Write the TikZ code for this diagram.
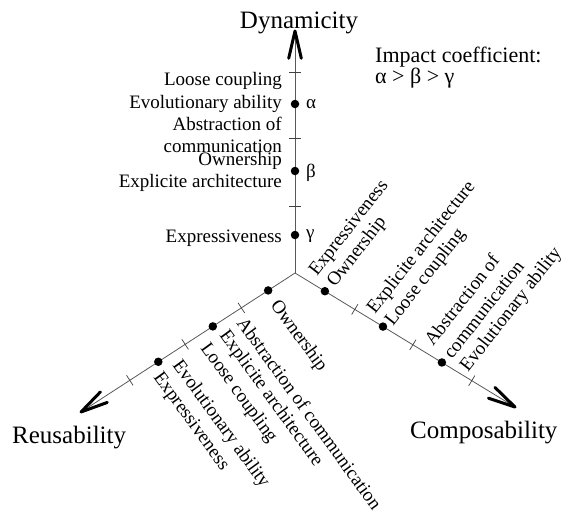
\documentclass[tikz,border=0pt]{standalone}
\usepackage{fontspec}
\setmainfont{Liberation Serif}
\usetikzlibrary{calc}
\tikzset{
  axisline/.style={draw=black!65, line width=0.8pt},
  tickmark/.style={draw=black!75, line width=0.7pt},
  veehead/.style={draw=black, line width=3pt, line cap=round, line join=round},
  dotnode/.style={circle, fill=black, inner sep=0pt, minimum size=8.5pt},
  lbl/.style={inner sep=0pt, font=\fontsize{19}{22}\selectfont},
  ttl/.style={inner sep=0pt, font=\fontsize{25}{28}\selectfont},
  imp/.style={inner sep=0pt, font=\fontsize{22}{25}\selectfont},
  rlbl/.style={lbl, anchor=base west, rotate=52},
  llbl/.style={lbl, anchor=base west, rotate=-54},
  vlbl/.style={lbl, anchor=base east},
  glbl/.style={lbl, anchor=base west},
}
\begin{document}
\begin{tikzpicture}[x=1pt,y=-1pt]
\useasboundingbox (0,0) rectangle (562,517);
% axes
\coordinate (O) at (295,273);
\coordinate (T) at (295,31);
\coordinate (R) at (515,407);
\coordinate (L) at (81,412);
\draw[axisline] (O) -- ($(T)!4pt!(O)$);
\draw[axisline] (O) -- ($(R)!4pt!(O)$);
\draw[axisline] (O) -- ($(L)!4pt!(O)$);
% arrowheads
\draw[veehead] ($(T)!28pt!13:(O)$) -- (T) -- ($(T)!28pt!-13:(O)$);
\draw[veehead] ($(R)!28pt!13:(O)$) -- (R) -- ($(R)!28pt!-13:(O)$);
\draw[veehead] ($(L)!28pt!13:(O)$) -- (L) -- ($(L)!28pt!-13:(O)$);
% ticks
\foreach \d in {67,135,201}{
  \draw[tickmark] ($($(O)!\d pt!(T)$)!6pt!90:(T)$) -- ($($(O)!\d pt!(T)$)!6pt!-90:(T)$);
}
\foreach \d in {70,138,207}{
  \draw[tickmark] ($($(O)!\d pt!(R)$)!6pt!90:(R)$) -- ($($(O)!\d pt!(R)$)!6pt!-90:(R)$);
}
\foreach \d in {64,131,197}{
  \draw[tickmark] ($($(O)!\d pt!(L)$)!6pt!90:(L)$) -- ($($(O)!\d pt!(L)$)!6pt!-90:(L)$);
}
% dots
\node[dotnode] (v1) at ($(O)!38pt!(T)$) {};
\node[dotnode] (v2) at ($(O)!102pt!(T)$) {};
\node[dotnode] (v3) at ($(O)!169pt!(T)$) {};
\node[dotnode] (r1) at ($(O)!35pt!(R)$) {};
\node[dotnode] (r2) at ($(O)!103pt!(R)$) {};
\node[dotnode] (r3) at ($(O)!172pt!(R)$) {};
\node[dotnode] (l1) at ($(O)!32pt!(L)$) {};
\node[dotnode] (l2) at ($(O)!98pt!(L)$) {};
\node[dotnode] (l3) at ($(O)!163pt!(L)$) {};
% titles
\node[ttl, anchor=base] (tdyn) at (299,28) {Dynamicity};
\node[ttl, anchor=base west] (treu) at (12,443) {Reusability};
\node[ttl, anchor=base west] (tcom) at (410,438) {Composability};
\node[imp, anchor=base west] (imp1) at (375,62) {Impact coefficient:};
\node[imp, anchor=base west] (imp2) at (375,83) {α > β > γ};
% vertical axis labels
\node[vlbl] (va1) at (282,85) {Loose coupling};
\node[vlbl] (va2) at (282,108) {Evolutionary ability};
\node[vlbl] (va3) at (282,130) {Abstraction of};
\node[vlbl] (va4) at (282,152) {communication};
\node[vlbl] (va5) at (282,165) {Ownership};
\node[vlbl] (va6) at (282,187) {Explicite architecture};
\node[vlbl] (va7) at (282,242) {Expressiveness};
\node[glbl] (ga) at (306,108) {α};
\node[glbl] (gb) at (306,177) {β};
\node[glbl] (gc) at (306,238) {γ};
% composability labels
\node[rlbl] (ra1) at (317,277) {Expressiveness};
\node[rlbl] (ra2) at (335,288) {Ownership};
\node[rlbl] (ra3) at (375,315) {Explicite architecture};
\node[rlbl] (ra4) at (393,327) {Loose coupling};
\node[rlbl] (ra5) at (433,347) {Abstraction of};
\node[rlbl] (ra6) at (452,360) {communication};
\node[rlbl] (ra7) at (468,373) {Evolutionary ability};
% reusability labels
\node[llbl] (la1) at (270,305) {Ownership};
\node[llbl] (la2) at (236,323) {Abstraction of communication};
\node[llbl] (la3) at (219,335) {Explicite architecture};
\node[llbl] (la4) at (200,348) {Loose coupling};
\node[llbl] (la5) at (172,365) {Evolutionary ability};
\node[llbl] (la6) at (153,377) {Expressiveness};
\end{tikzpicture}
\end{document}
